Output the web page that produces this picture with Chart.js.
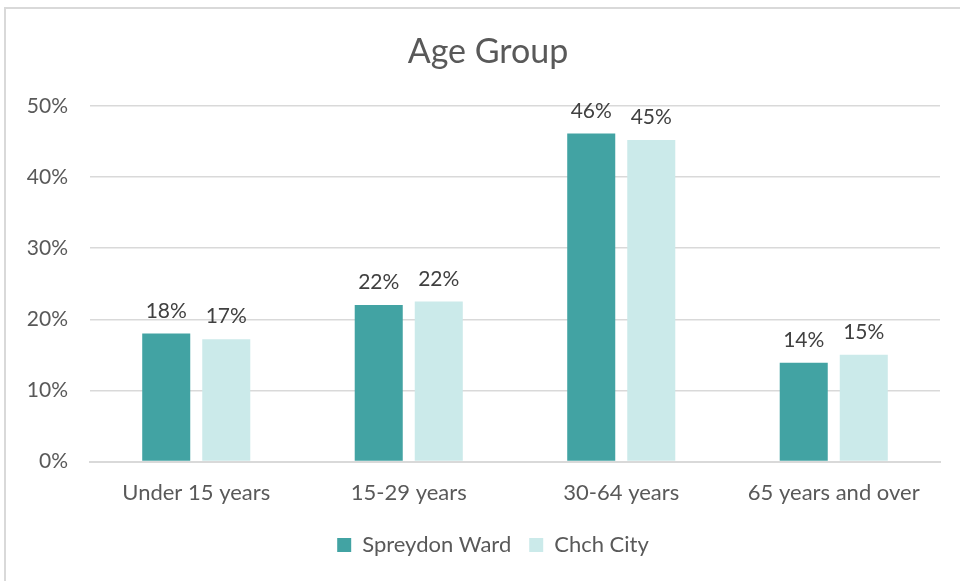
<!DOCTYPE html>
<html>
<head>
<meta charset="utf-8">
<script src="https://cdn.jsdelivr.net/npm/chart.js@4/dist/chart.umd.min.js"></script>
<style>
    html, body { margin: 0; padding: 0; background: #fff; }
    #frame {
        position: absolute; left: 4px; top: 7px;
        width: 1000px; height: 620px;
        border: 2px solid #d9d9d9;
    }
    #wrap { position: absolute; left: 0; top: 0; width: 960px; height: 581px; }
</style>
</head>
<body>
<div id="frame"></div>
<div id="wrap"><canvas id="ageChart" width="960" height="581"></canvas></div>
<script>
// 数据
const categories = ['Under 15 years', '15-29 years', '30-64 years', '65 years and over'];
const spreydonWard = [18.0, 22.0, 46.1, 13.9];
const chchCity = [17.2, 22.5, 45.2, 15.0];
const spreydonLabels = ['18%', '22%', '46%', '14%'];
const chchLabels = ['17%', '22%', '45%', '15%'];
const yTicks = [0, 10, 20, 30, 40, 50];

const FONT = "'Lato', sans-serif";

// 柱顶数值标签
const barLabels = {
    id: 'barLabels',
    afterLayout(chart) {
        // 标题和图例稍微右移
        if (chart.titleBlock) chart.titleBlock.left += 28;
        if (chart.legend) chart.legend.left += 38;
    },
    afterDatasetsDraw(chart) {
        const ctx = chart.ctx;
        const texts = [spreydonLabels, chchLabels];
        ctx.save();
        ctx.font = '21px ' + FONT;
        ctx.fillStyle = '#404040';
        ctx.textAlign = 'center';
        ctx.textBaseline = 'bottom';
        chart.data.datasets.forEach((ds, i) => {
            chart.getDatasetMeta(i).data.forEach((bar, j) => {
                ctx.fillText(texts[i][j], bar.x, bar.y - 12);
            });
        });
        ctx.restore();
    }
};

new Chart(document.getElementById('ageChart'), {
    type: 'bar',
    data: {
        labels: categories,
        datasets: [{
            label: 'Spreydon Ward',
            data: spreydonWard,
            backgroundColor: '#42a3a3'
        }, {
            label: 'Chch City',
            data: chchCity,
            backgroundColor: '#cbeaea'
        }]
    },
    options: {
        responsive: false,
        animation: false,
        devicePixelRatio: 1,
        categoryPercentage: 0.565,
        barPercentage: 0.8,
        layout: {
            padding: { top: 32, left: 8, right: 20, bottom: 15 }
        },
        plugins: {
            title: {
                display: true,
                text: 'Age Group',
                color: '#595959',
                font: { family: FONT, size: 34, weight: 'normal' },
                padding: { top: 0, bottom: 33 }
            },
            legend: {
                position: 'bottom',
                labels: {
                    color: '#595959',
                    font: { family: FONT, size: 22 },
                    boxWidth: 14,
                    boxHeight: 14,
                    padding: 18
                }
            },
            tooltip: { enabled: false }
        },
        scales: {
            x: {
                grid: { display: false },
                border: { color: '#d9d9d9', width: 2 },
                ticks: {
                    color: '#595959',
                    font: { family: FONT, size: 22 },
                    padding: 10
                }
            },
            y: {
                min: 0,
                max: 50,
                afterBuildTicks(axis) {
                    axis.ticks = yTicks.map(v => ({ value: v }));
                },
                afterFit(axis) {
                    axis.width = 82;
                },
                grid: { color: '#d9d9d9', lineWidth: 1.5, drawTicks: false },
                border: { display: false },
                ticks: {
                    color: '#595959',
                    font: { family: FONT, size: 21 },
                    padding: 22,
                    callback: v => v + '%'
                }
            }
        }
    },
    plugins: [barLabels]
});
</script>
</body>
</html>
